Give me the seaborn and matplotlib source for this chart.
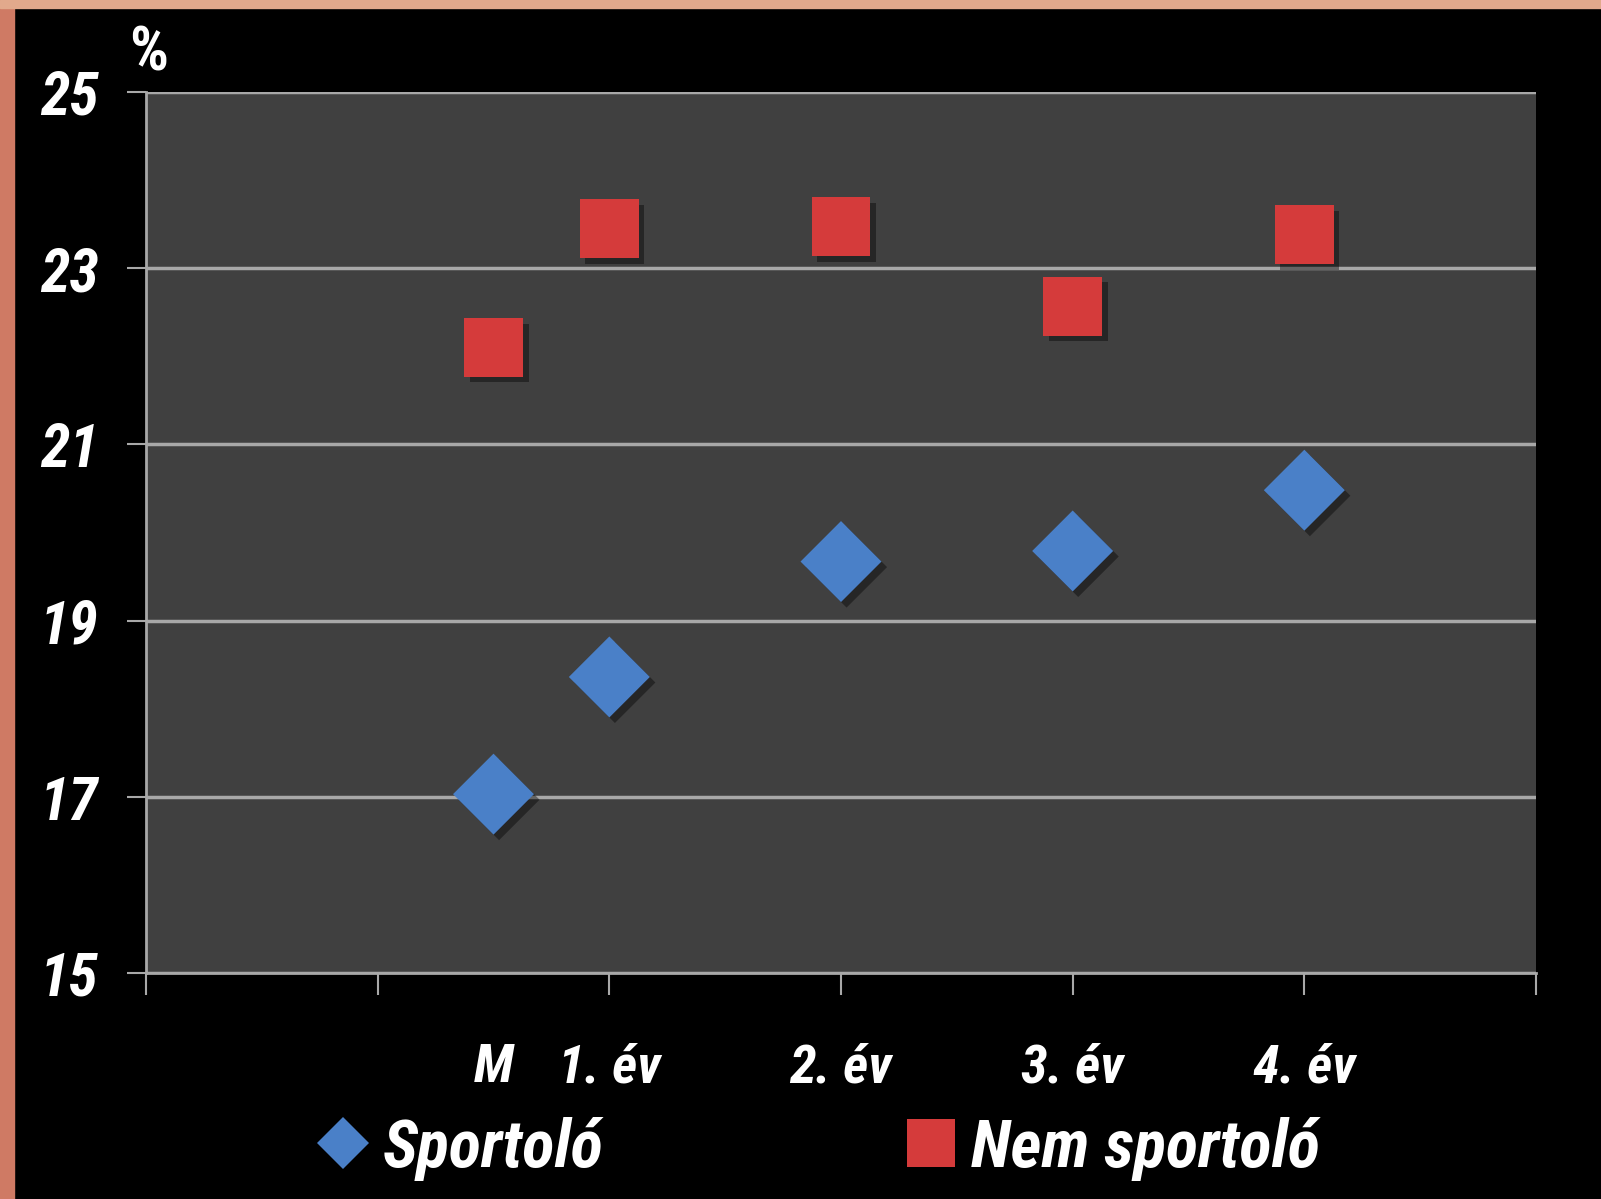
import pandas as pd
import matplotlib
matplotlib.use('Agg')
import matplotlib.pyplot as plt
import matplotlib.patheffects as pe
from matplotlib.lines import Line2D
from matplotlib.patches import Rectangle
import seaborn as sns

# Data
groups = ['M', '1. év', '2. év', '3. év', '4. év']
x_pos = [1.5, 2, 3, 4, 5]
sportolo = [17.03, 18.36, 19.67, 19.79, 20.48]
nem_sportolo = [22.10, 23.45, 23.47, 22.57, 23.38]
series = ['Sportoló', 'Nem sportoló']
yticks = [15, 17, 19, 21, 23, 25]

df = pd.DataFrame({
    'x': x_pos * 2,
    'y': sportolo + nem_sportolo,
    'group': [series[0]] * len(x_pos) + [series[1]] * len(x_pos),
})

sns.set_style('dark')
font = ['Roboto Condensed', 'DejaVu Sans']
plt.rcParams['font.family'] = font
plt.rcParams['font.stretch'] = 'condensed'

colors = {'Sportoló': '#4a80c8', 'Nem sportoló': '#d53b3b'}
markers = {'Sportoló': 'D', 'Nem sportoló': 's'}
sizes = {'Sportoló': 1700, 'Nem sportoló': 1800}

fig = plt.figure(figsize=(16.01, 11.99), dpi=100, facecolor='black')
ax = fig.add_axes([0.0912, 0.1885, 0.8682, 0.7348])
ax.set_facecolor('#404040')

shadow = [pe.SimplePatchShadow(offset=(4, -4), shadow_rgbFace='black', alpha=0.4), pe.Normal()]
for name in series:
    sub = df[df['group'] == name]
    sns.scatterplot(data=sub, x='x', y='y', marker=markers[name], color=colors[name],
                    s=sizes[name], linewidth=0, ax=ax, legend=False, zorder=3)
for coll in ax.collections:
    coll.set_path_effects(shadow)

ax.set_xlim(0, 6)
ax.set_ylim(15, 25)
ax.set_yticks(yticks)
ax.set_yticklabels([str(v) for v in yticks])
ax.grid(axis='y', color='#a8a8a8', linewidth=2.5)
ax.grid(axis='x', visible=False)

# major ticks: unlabeled divisions; minor ticks: category labels
ax.set_xticks(range(7))
ax.set_xticklabels([])
ax.set_xticks(x_pos, minor=True)
ax.set_xticklabels(groups, minor=True)
ax.xaxis.remove_overlapping_locs = False
ax.tick_params(axis='x', which='major', direction='out', length=16, width=1.5, color='#a8a8a8', bottom=True)
ax.tick_params(axis='x', which='minor', length=0, pad=50, labelsize=39, labelcolor='white', bottom=True)
ax.tick_params(axis='y', direction='out', length=14, width=1.5, color='#a8a8a8', pad=20,
               labelsize=43, labelcolor='white', left=True)
for lab in ax.get_yticklabels() + ax.get_xticklabels(minor=True):
    lab.set_fontweight('bold')
    lab.set_fontstyle('italic')

for side in ['top', 'right']:
    ax.spines[side].set_visible(False)
for side in ['left', 'bottom']:
    ax.spines[side].set_visible(True)
    ax.spines[side].set_color('#a8a8a8')
    ax.spines[side].set_linewidth(2)

ax.set_xlabel('')
ax.set_ylabel('')
ax.text(-0.012, 1.024, '%', transform=ax.transAxes, color='white', fontsize=44,
        fontweight='bold', ha='left', va='baseline')

handles = [Line2D([], [], marker=markers[n], color=colors[n], linestyle='none',
                  markersize=26 if n == 'Sportoló' else 34, markeredgewidth=0) for n in series]
leg = fig.legend(handles, series, loc='center', bbox_to_anchor=(0.509, 0.042), ncol=2,
                 frameon=False, columnspacing=4.4, handletextpad=0.1, handlelength=1.0,
                 prop={'family': font, 'weight': 'bold', 'style': 'italic', 'size': 48})
for t in leg.get_texts():
    t.set_color('white')

# salmon frame edges of the slide
fig.patches.append(Rectangle((0, 0), 14 / 1601, 1, transform=fig.transFigure,
                             color='#cf7a64', zorder=0))
fig.patches.append(Rectangle((0, 1 - 8 / 1199), 1, 8 / 1199, transform=fig.transFigure,
                             color='#e2a98c', zorder=0))

fig.savefig('out.png', dpi=100, facecolor='black')
